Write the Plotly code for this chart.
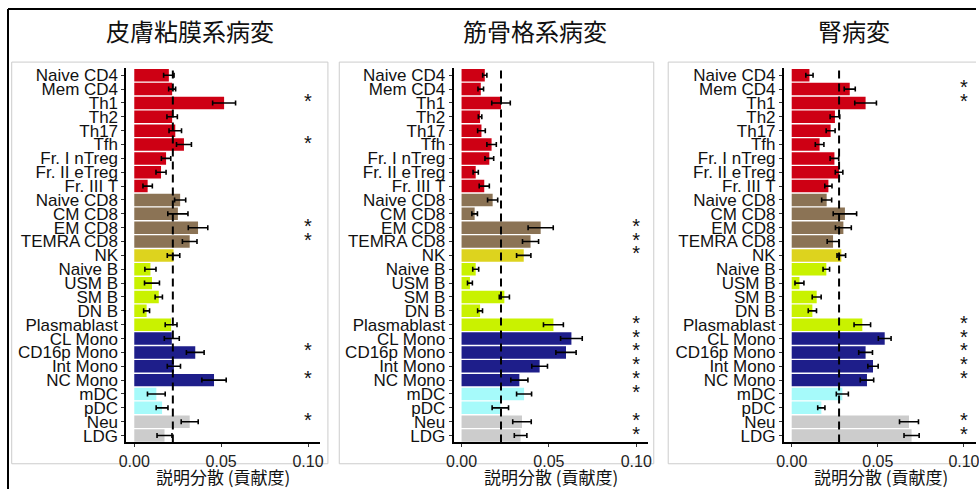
import plotly.graph_objects as go

# Cell types, top to bottom
cells = ["Naive CD4", "Mem CD4", "Th1", "Th2", "Th17", "Tfh",
         "Fr. I nTreg", "Fr. II eTreg", "Fr. III T",
         "Naive CD8", "CM CD8", "EM CD8", "TEMRA CD8", "NK",
         "Naive B", "USM B", "SM B", "DN B", "Plasmablast",
         "CL Mono", "CD16p Mono", "Int Mono", "NC Mono",
         "mDC", "pDC", "Neu", "LDG"]

# Lineage group of each cell type
groups = ["CD4"] * 9 + ["CD8"] * 4 + ["NK"] + ["B"] * 5 + ["Mono"] * 4 + ["DC"] * 2 + ["Gran"] * 2

group_colors = {
    "CD4": "#CE0014",
    "CD8": "#8B7355",
    "NK": "#DDD31E",
    "B": "#C9F200",
    "Mono": "#1E1E8A",
    "DC": "#A6FAFA",
    "Gran": "#CCCCCC",
}

panel_titles = ["皮膚粘膜系病変", "筋骨格系病変", "腎病変"]

# Explained variance (contribution) per cell type
skin_vals = [0.0199, 0.0218, 0.0517, 0.0218, 0.0236, 0.0286, 0.0183, 0.0154, 0.0077,
             0.0264, 0.0251, 0.0367, 0.0319, 0.0226,
             0.0093, 0.0102, 0.0141, 0.0071, 0.0212,
             0.0216, 0.0351, 0.0228, 0.0459,
             0.0127, 0.0160, 0.0319, 0.0174]
skin_err = [0.0030, 0.0020, 0.0066, 0.0030, 0.0036, 0.0043, 0.0027, 0.0029, 0.0027,
            0.0032, 0.0058, 0.0056, 0.0042, 0.0036,
            0.0032, 0.0043, 0.0021, 0.0017, 0.0034,
            0.0043, 0.0051, 0.0038, 0.0070,
            0.0051, 0.0034, 0.0049, 0.0043]
skin_ref = 0.0222
skin_sig = ["Th1", "Tfh", "EM CD8", "TEMRA CD8", "CD16p Mono", "NC Mono", "Neu"]

msk_vals = [0.0133, 0.0110, 0.0226, 0.0106, 0.0114, 0.0172, 0.0159, 0.0081, 0.0130,
            0.0178, 0.0075, 0.0453, 0.0395, 0.0356,
            0.0081, 0.0048, 0.0245, 0.0106, 0.0526,
            0.0629, 0.0598, 0.0447, 0.0331,
            0.0358, 0.0222, 0.0346, 0.0338]
msk_err = [0.0012, 0.0016, 0.0053, 0.0010, 0.0022, 0.0027, 0.0025, 0.0015, 0.0029,
           0.0029, 0.0016, 0.0072, 0.0046, 0.0041,
           0.0017, 0.0014, 0.0029, 0.0014, 0.0057,
           0.0062, 0.0058, 0.0045, 0.0049,
           0.0043, 0.0047, 0.0053, 0.0036]
msk_ref = 0.0226
msk_sig = ["EM CD8", "TEMRA CD8", "NK", "Plasmablast", "CL Mono", "CD16p Mono",
           "Int Mono", "NC Mono", "mDC", "Neu", "LDG"]

renal_vals = [0.0103, 0.0337, 0.0429, 0.0251, 0.0226, 0.0162, 0.0248, 0.0275, 0.0213,
              0.0203, 0.0309, 0.0300, 0.0240, 0.0288,
              0.0201, 0.0045, 0.0145, 0.0120, 0.0410,
              0.0540, 0.0429, 0.0472, 0.0437,
              0.0294, 0.0172, 0.0681, 0.0696]
renal_err = [0.0021, 0.0032, 0.0063, 0.0028, 0.0026, 0.0025, 0.0025, 0.0022, 0.0021,
             0.0029, 0.0068, 0.0046, 0.0034, 0.0025,
             0.0019, 0.0026, 0.0026, 0.0024, 0.0048,
             0.0037, 0.0040, 0.0030, 0.0039,
             0.0035, 0.0021, 0.0055, 0.0044]
renal_ref = 0.0275
renal_sig = ["Mem CD4", "Th1", "Plasmablast", "CL Mono", "CD16p Mono",
             "Int Mono", "NC Mono", "Neu", "LDG"]

x_ticks = [0.0, 0.05, 0.10]
x_tick_text = ["0.00", "0.05", "0.10"]
star_x = 0.10
x_title = "説明分散 (貢献度)"

panels = [
    (skin_vals, skin_err, skin_ref, skin_sig),
    (msk_vals, msk_err, msk_ref, msk_sig),
    (renal_vals, renal_err, renal_ref, renal_sig),
]

W, H = 979, 492
# Horizontal pixel grid: origin offset and scale
GX0, GXS = 9.0, 0.985


def px_x(p):
    return min(max((p - GX0) / GXS / W, 0.0), 1.0)


def px_y(p):
    return min(max(1 - p / H, 0.0), 1.0)


def paper_line(x0, y0, x1, y1, color, width):
    fig.add_shape(type="line", xref="paper", yref="paper",
                  x0=px_x(x0), x1=px_x(x1), y0=px_y(y0), y1=px_y(y1),
                  line=dict(color=color, width=width), layer="below")


# Plot area of each panel in pixels: (left, right)
plot_x = [(127, 320), (453, 647), (782, 975)]
plot_top, plot_bottom = 67, 445
# Light frame around each panel (the last one runs off the right edge)
frame_x = [(12.7, 327.7), (339, 652.3), (666.7, None)]
frame_top, frame_bottom = 60.7, 466.5
title_x = [190, 534, 852]

label_font = dict(family="Liberation Sans, Arial, sans-serif", size=17, color="#111111")
xtick_font = dict(family="Liberation Sans, Arial, sans-serif", size=16, color="#222222")
cjk_font = "Noto Sans CJK JP, sans-serif"

fig = go.Figure()
bar_colors = [group_colors[g] for g in groups]
x_range = [-0.0045, 0.107]

for i, (vals, errs, ref, sig) in enumerate(panels):
    n = "" if i == 0 else str(i + 1)
    xa, ya = "x" + n, "y" + n
    fig.add_trace(go.Bar(
        x=vals, y=cells, orientation="h",
        marker=dict(color=bar_colors, line=dict(width=0)),
        error_x=dict(type="data", array=errs, visible=True,
                     color="black", thickness=1.6, width=2.5),
        xaxis=xa, yaxis=ya, showlegend=False, hoverinfo="x+y",
    ))
    fig.add_trace(go.Scatter(
        x=[star_x] * len(sig), y=sig, mode="text", text=["*"] * len(sig),
        textfont=dict(family="Liberation Sans, Arial", size=20, color="#111111"),
        textposition="middle center",
        xaxis=xa, yaxis=ya, showlegend=False, hoverinfo="skip",
    ))
    l, r = plot_x[i]
    ax_common = dict(showgrid=False, zeroline=False, showline=True,
                     linecolor="black", linewidth=2, ticks="outside",
                     ticklen=3, tickwidth=1.2, tickcolor="#333333",
                     ticklabeloverflow="allow")
    fig.layout["xaxis" + n] = dict(
        domain=[px_x(l), px_x(r)], range=x_range, anchor=ya,
        tickmode="array", tickvals=x_ticks, ticktext=x_tick_text,
        tickfont=xtick_font, **ax_common)
    fig.layout["yaxis" + n] = dict(
        domain=[px_y(plot_bottom), px_y(plot_top)], anchor=xa,
        categoryorder="array", categoryarray=cells[::-1],
        tickmode="array", tickvals=cells, ticktext=cells,
        tickfont=label_font,
        range=[-0.5, len(cells) - 0.5], **ax_common)

    # Reference line
    fig.add_shape(type="line", xref=xa, yref="paper",
                  x0=ref, x1=ref, y0=px_y(plot_bottom), y1=px_y(plot_top),
                  line=dict(color="black", width=2, dash="8px,5px"))
    # Panel frame
    fl, fr = frame_x[i]
    right = fr if fr is not None else 1000
    paper_line(fl, frame_top, right, frame_top, "#CCCCCC", 1)
    paper_line(fl, frame_bottom, right, frame_bottom, "#CCCCCC", 1)
    paper_line(fl, frame_top, fl, frame_bottom, "#CCCCCC", 1)
    if fr is not None:
        paper_line(fr, frame_top, fr, frame_bottom, "#CCCCCC", 1)
    # Panel title
    fig.add_annotation(text=panel_titles[i], xref="paper", yref="paper",
                       x=px_x(title_x[i]), y=px_y(29), showarrow=False,
                       xanchor="center", yanchor="middle",
                       font=dict(family=cjk_font, size=24, color="#111111"))
    # Axis title
    fig.add_annotation(text=x_title, xref="paper", yref="paper",
                       x=px_x((l + r) / 2), y=px_y(479), showarrow=False,
                       xanchor="center", yanchor="middle",
                       font=dict(family=cjk_font, size=17, color="#111111"))

# Outer border: top and left edges
paper_line(8, 7, 1000, 7, "black", 2)
paper_line(8, 7, 8, H, "black", 2)

fig.update_layout(
    width=W, height=H,
    margin=dict(l=0, r=0, t=0, b=0),
    paper_bgcolor="white", plot_bgcolor="white",
    bargap=0.1,
)

fig.write_html("out.html")
